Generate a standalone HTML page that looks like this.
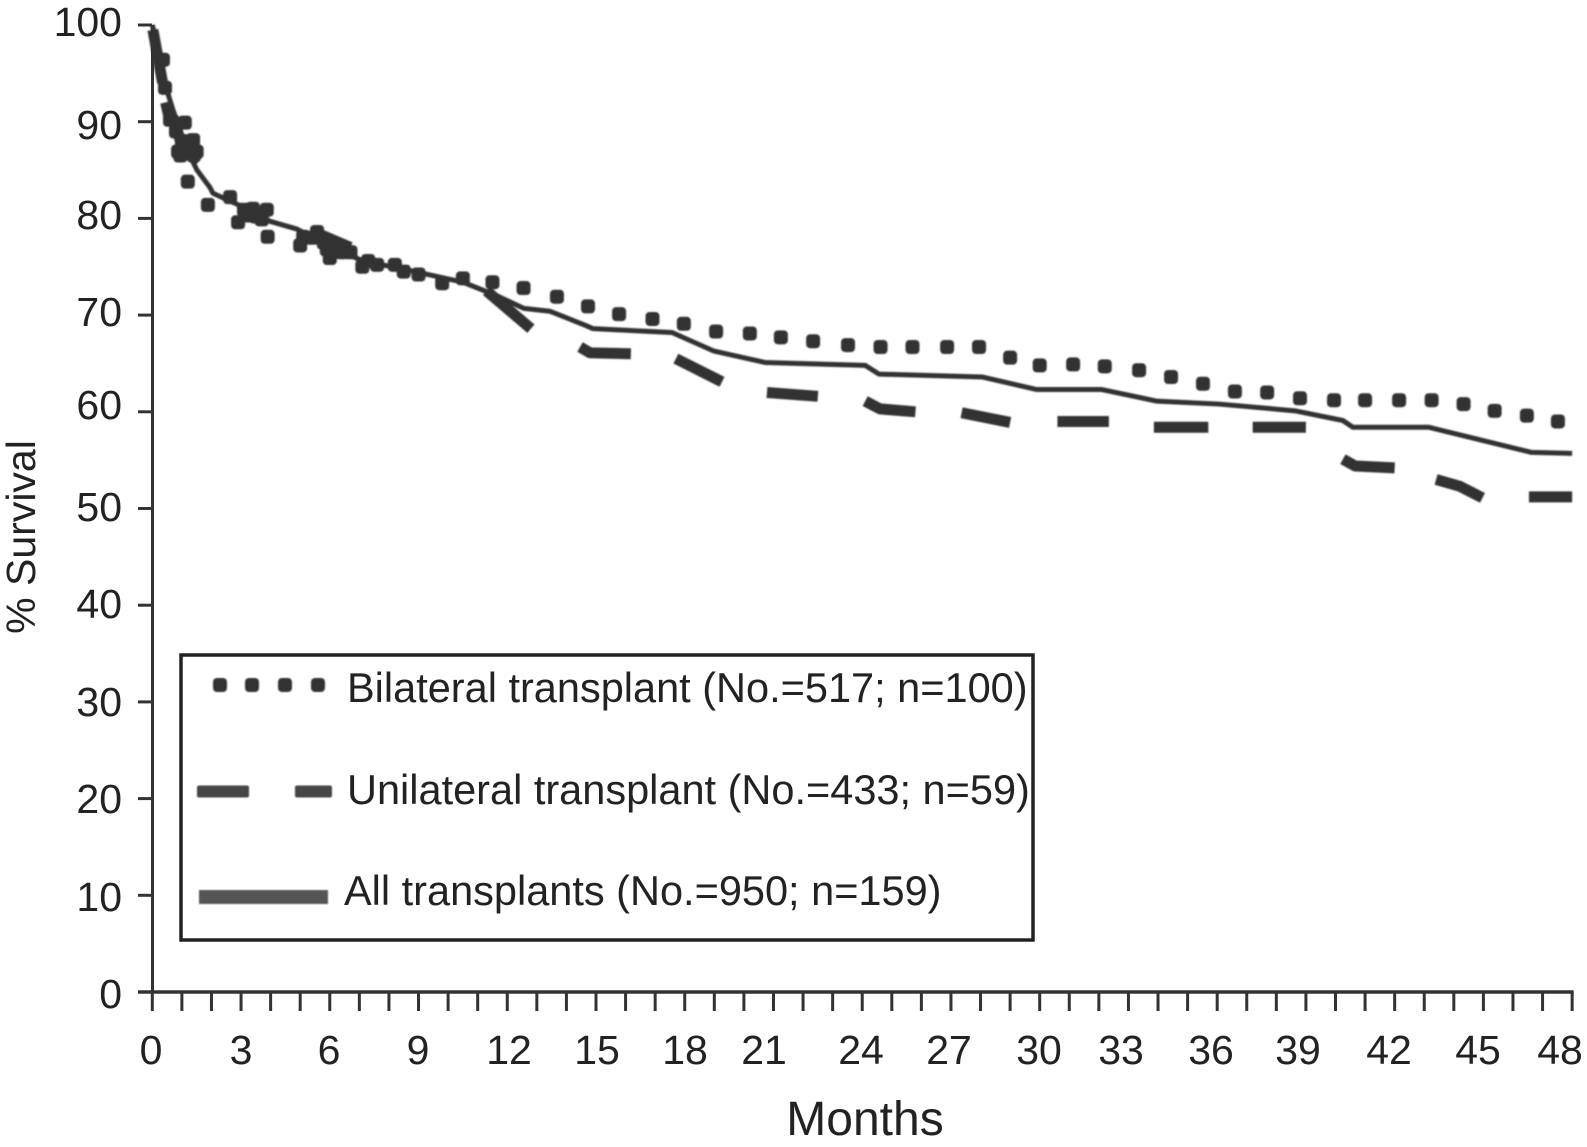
<!DOCTYPE html>
<html lang="en">
<head>
<meta charset="utf-8">
<title>Survival after transplant</title>
<style>
html,body{margin:0;padding:0;background:#fff;}
svg{display:block;font-family:"Liberation Sans",Arial,sans-serif;fill:#222;}
.t{font-size:41px;}
.l{font-size:41.5px;}
</style>
</head>
<body>
<svg id="chart" width="1587" height="1147" viewBox="0 0 1587 1147" xmlns="http://www.w3.org/2000/svg">
<defs><filter id="soft" x="-5%" y="-5%" width="110%" height="110%"><feGaussianBlur stdDeviation="0.8"/></filter></defs>
<rect width="1587" height="1147" fill="#fff"/>
<g id="axes"></g>
<g id="marks" filter="url(#soft)"></g>

<g class="t" text-anchor="end">
<text x="122" y="36">100</text>
<text x="122" y="139">90</text>
<text x="122" y="229">80</text>
<text x="122" y="326">70</text>
<text x="122" y="419">60</text>
<text x="122" y="521">50</text>
<text x="122" y="618">40</text>
<text x="122" y="716">30</text>
<text x="122" y="813">20</text>
<text x="122" y="911">10</text>
<text x="122" y="1008">0</text>
</g>
<g class="t" text-anchor="middle">
<text x="151" y="1064">0</text>
<text x="241" y="1064">3</text>
<text x="329" y="1064">6</text>
<text x="418" y="1064">9</text>
<text x="509" y="1064">12</text>
<text x="597" y="1064">15</text>
<text x="685" y="1064">18</text>
<text x="764" y="1064">21</text>
<text x="861" y="1064">24</text>
<text x="949" y="1064">27</text>
<text x="1039" y="1064">30</text>
<text x="1121" y="1064">33</text>
<text x="1211" y="1064">36</text>
<text x="1298" y="1064">39</text>
<text x="1389" y="1064">42</text>
<text x="1478" y="1064">45</text>
<text x="1560" y="1064">48</text>
</g>
<text x="865" y="1135" text-anchor="middle" font-size="48">Months</text>
<text transform="translate(35,537) rotate(-90)" text-anchor="middle" font-size="41">% Survival</text>

<g>
<rect x="181" y="655" width="852" height="285" fill="none" stroke="#222" stroke-width="3.5"/>
<g filter="url(#soft)" fill="#333">
<rect x="213" y="678" width="14" height="14" rx="4"/><rect x="245" y="678" width="14" height="14" rx="4"/><rect x="278" y="678" width="14" height="14" rx="4"/><rect x="311" y="678" width="14" height="14" rx="4"/>
</g>
<g filter="url(#soft)" fill="#444">
<rect x="197" y="785.5" width="52" height="12" rx="2"/><rect x="295" y="785.5" width="37" height="12" rx="2"/>
</g>
<rect x="199" y="890" width="129" height="14" fill="#555" filter="url(#soft)"/>
<text class="l" x="347" y="702">Bilateral transplant (No.=517; n=100)</text>
<text class="l" x="347" y="804">Unilateral transplant (No.=433; n=59)</text>
<text class="l" x="344" y="905">All transplants (No.=950; n=159)</text>
</g>
</svg>
<script>
const xTickMonths = [0,1,2,3,4,5,6,7,8,9,10,11,12,13,14,15,16,17,18,19,20,21,22,23,24,25,26,27,28,29,30,31,32,33,34,35,36,37,38,39,40,41,42,43,44,45,46,47,48];
const yTickValues = [0,10,20,30,40,50,60,70,80,90,100];

const allMonths = [0,0.16,0.36,0.7,1.17,1.51,1.95,2.05,3.2,3.98,4.89,6.0,7.12,8.27,10.5,11.65,12.56,13.44,14.67,14.9,17.57,18.97,20.71,24.1,24.57,28.05,29.9,32.1,33.96,36.06,38.63,40.25,40.59,43.16,46.63,48];
const allValues = [100,98.1,94.6,91.2,87.1,85.0,83.2,82.6,81.0,79.7,78.9,77.1,75.6,74.9,73.4,72.0,70.7,70.4,68.9,68.6,68.2,66.3,65.1,64.8,63.9,63.6,62.3,62.3,61.1,60.8,60.1,59.1,58.4,58.4,55.8,55.7];

const bilateralMonths = [0.36,0.43,0.6,0.8,0.87,0.95,1.0,1.1,1.2,1.2,1.3,1.38,1.4,1.5,1.88,2.63,2.9,3.1,3.2,3.4,3.5,3.7,3.87,3.9,5.0,5.1,5.4,5.57,5.8,5.9,6.0,6.2,6.4,6.7,7.1,7.3,7.6,8.2,8.5,9.0,9.8,10.5,11.5,12.55,13.68,14.73,15.78,16.91,17.97,19.06,20.2,21.25,22.34,23.52,24.62,25.7,26.87,27.95,29.0,30.0,31.13,32.2,33.36,34.44,35.52,36.6,37.69,38.8,39.95,41.0,42.15,43.25,44.33,45.38,46.47,47.52];
const bilateralValues = [96.4,93.5,90.2,89,86.9,86.5,88,89.9,87,83.8,87.7,88.1,86.5,86.9,81.4,82.2,79.6,80.9,80.3,81,80.2,79.9,80.9,78.1,77.2,78.1,78,78.6,77.5,76.8,75.9,76.9,76.5,76.5,75.0,75.6,75.2,75.2,74.5,74.2,73.3,73.8,73.4,72.8,71.9,70.9,70.1,69.6,69.1,68.3,68.1,67.7,67.3,66.9,66.7,66.7,66.7,66.7,65.6,64.8,64.9,64.7,64.3,63.6,62.9,62.1,62.0,61.4,61.2,61.2,61.2,61.2,60.8,60.1,59.6,59.0];

// null entries mark the gaps between dashes of the unilateral curve
const unilateralMonths = [0.02,0.35,null,0.45,0.6,null,0.7,1.0,1.6,null,2.9,3.9,null,5.7,6.7,null,11.3,12.8,null,14.46,14.8,16.18,null,17.7,19.26,null,20.78,22.5,null,24.1,24.6,25.8,null,27.36,29.0,null,30.6,32.34,null,33.86,35.7,null,37.2,39.0,null,40.25,40.66,42.0,null,43.4,44.2,44.97,null,46.54,48];
const unilateralValues = [99.5,94,null,92,90,null,90.5,87.5,86,null,81,80.5,null,78.3,77,null,72.5,68.6,null,66.7,66.1,66.0,null,65.5,63.1,null,62.0,61.6,null,61.1,60.3,60.0,null,59.9,58.9,null,59.0,59.0,null,58.4,58.4,null,58.4,58.4,null,55.1,54.4,54.2,null,53.0,52.3,51.1,null,51.2,51.2];

const NS = 'http://www.w3.org/2000/svg';
const xScale = m => 152.3 + m * 29.58;
const yScale = v => 992 - v * 9.67;
const axes = document.getElementById('axes');
const marks = document.getElementById('marks');

function make(tag, attrs, parent) {
  const el = document.createElementNS(NS, tag);
  for (const k in attrs) el.setAttribute(k, attrs[k]);
  parent.appendChild(el);
  return el;
}

xTickMonths.forEach(m => {
  const tick = make('line', {x1: xScale(m), x2: xScale(m), y1: 992, y2: 1011, stroke: '#333', 'stroke-width': 3}, axes);
  
  
});
yTickValues.forEach(v => {
  const tick = make('line', {x1: 138, x2: 152, y1: yScale(v), y2: yScale(v), stroke: '#333', 'stroke-width': 3}, axes);
  
  
});
const yAxis = make('line', {x1: 152.5, x2: 152.5, y1: yScale(100), y2: yScale(0) + 1.5, stroke: '#333', 'stroke-width': 3}, axes);


const xAxis = make('line', {x1: 138, x2: xScale(48) + 1.5, y1: yScale(0), y2: yScale(0), stroke: '#333', 'stroke-width': 3.5}, axes);



const allPts = allMonths.map((m, i) => xScale(m) + ',' + yScale(allValues[i])).join(' ');
const allLine = make('polyline', {points: allPts, fill: 'none', stroke: '#333', 'stroke-width': 5, 'stroke-linejoin': 'round'}, marks);



let run = [];
function flush() {
  if (run.length) {
    const dash = make('polyline', {points: run.join(' '), fill: 'none', stroke: '#333', 'stroke-width': 11, 'stroke-linejoin': 'round'}, marks);
    
    
  }
  run = [];
}
unilateralMonths.forEach((m, i) => {
  if (m === null) { flush(); return; }
  run.push(xScale(m) + ',' + yScale(unilateralValues[i]));
});
flush();

bilateralMonths.forEach((m, i) => {
  const dot = make('rect', {x: xScale(m) - 7, y: yScale(bilateralValues[i]) - 7, width: 14, height: 14, rx: 4, fill: '#333'}, marks);
  
  
});
</script>
</body>
</html>
